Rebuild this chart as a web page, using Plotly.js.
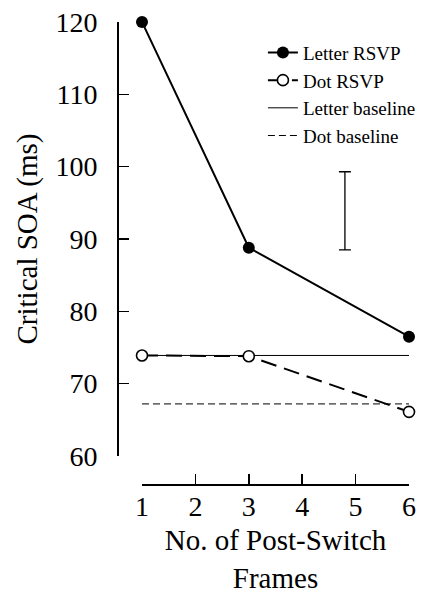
<!DOCTYPE html>
<html>
<head>
<meta charset="utf-8">
<script src="https://cdn.plot.ly/plotly-3.0.1.min.js"></script>
<style>html,body{margin:0;padding:0;background:#fff;}#chart{width:429px;height:594px;}</style>
</head>
<body>
<div id="chart"></div>
<script>
// Data
const frames = [1, 3, 6];
const letterRSVP = [120, 88.8, 76.5];
const dotRSVP = [73.9, 73.8, 66.1];
const baselineX = [1, 6];
const letterBaseline = [73.9, 73.9];
const dotBaseline = [67.2, 67.2];
const errBarX = [4.8];
const errBarCenter = [93.9];
const errBarHalf = [5.4];
const xTicks = [1, 2, 3, 4, 5, 6];
const yTicks = [60, 70, 80, 90, 100, 110, 120];

const FONT = 'Liberation Serif';

const traces = [
  {x: baselineX, y: letterBaseline, name: 'Letter baseline', legendrank: 3, mode: 'lines', cliponaxis: false,
   line: {color: '#000', width: 1}},
  {x: baselineX, y: dotBaseline, name: 'Dot baseline', legendrank: 4, mode: 'lines', cliponaxis: false,
   line: {color: '#000', width: 1, dash: '7px,4px'}},
  {x: frames, y: letterRSVP, name: 'Letter RSVP', legendrank: 1, mode: 'lines+markers', cliponaxis: false,
   line: {color: '#000', width: 2}, marker: {color: '#000', size: 12}},
  {x: frames, y: dotRSVP, name: 'Dot RSVP', legendrank: 2, mode: 'lines+markers', cliponaxis: false,
   line: {color: '#000', width: 2, dash: '16px,8px'},
   marker: {color: '#fff', size: 11, line: {color: '#000', width: 1.6}}},
  {x: errBarX, y: errBarCenter, mode: 'markers', showlegend: false, cliponaxis: false,
   marker: {size: 1, opacity: 0},
   error_y: {type: 'data', array: errBarHalf, visible: true, color: '#000', thickness: 1.3, width: 6}}
];

const layout = {
  width: 429, height: 594,
  margin: {l: 118, r: 20, t: 22, b: 109, autoexpand: false},
  paper_bgcolor: '#fff', plot_bgcolor: '#fff',
  font: {family: FONT, color: '#000', size: 28},
  showlegend: true,
  legend: {x: 0.498, y: 0.975, xanchor: 'left', yanchor: 'top', traceorder: 'normal',
           font: {family: FONT, size: 19, color: '#000'}, bgcolor: 'rgba(0,0,0,0)', tracegroupgap: 0},
  xaxis: {
    domain: [24/291, 1], range: [1, 6], anchor: 'free', position: 0, automargin: false,
    showline: true, linecolor: '#000', linewidth: 2, showgrid: false, zeroline: false,
    tickvals: xTicks, ticks: 'inside', ticklen: 10, tickwidth: 1.5, tickcolor: '#000',
    tickfont: {family: FONT, size: 28, color: '#000'}, ticklabelstandoff: -4,
    title: {text: 'No. of Post-Switch<br>Frames', font: {family: FONT, size: 29, color: '#000'}, standoff: 16}
  },
  yaxis: {
    domain: [29/463, 1], range: [60, 120], anchor: 'free', position: 0, automargin: false,
    showline: true, linecolor: '#000', linewidth: 2, showgrid: false, zeroline: false,
    tickvals: yTicks, ticks: 'inside', ticklen: 10, tickwidth: 1.5, tickcolor: '#000',
    tickfont: {family: FONT, size: 28, color: '#000'}, ticklabelstandoff: 14,
    title: {text: 'Critical SOA (ms)', font: {family: FONT, size: 29, color: '#000'}, standoff: 8}
  }
};

Plotly.newPlot('chart', traces, layout, {displayModeBar: false, staticPlot: true});
</script>
</body>
</html>
